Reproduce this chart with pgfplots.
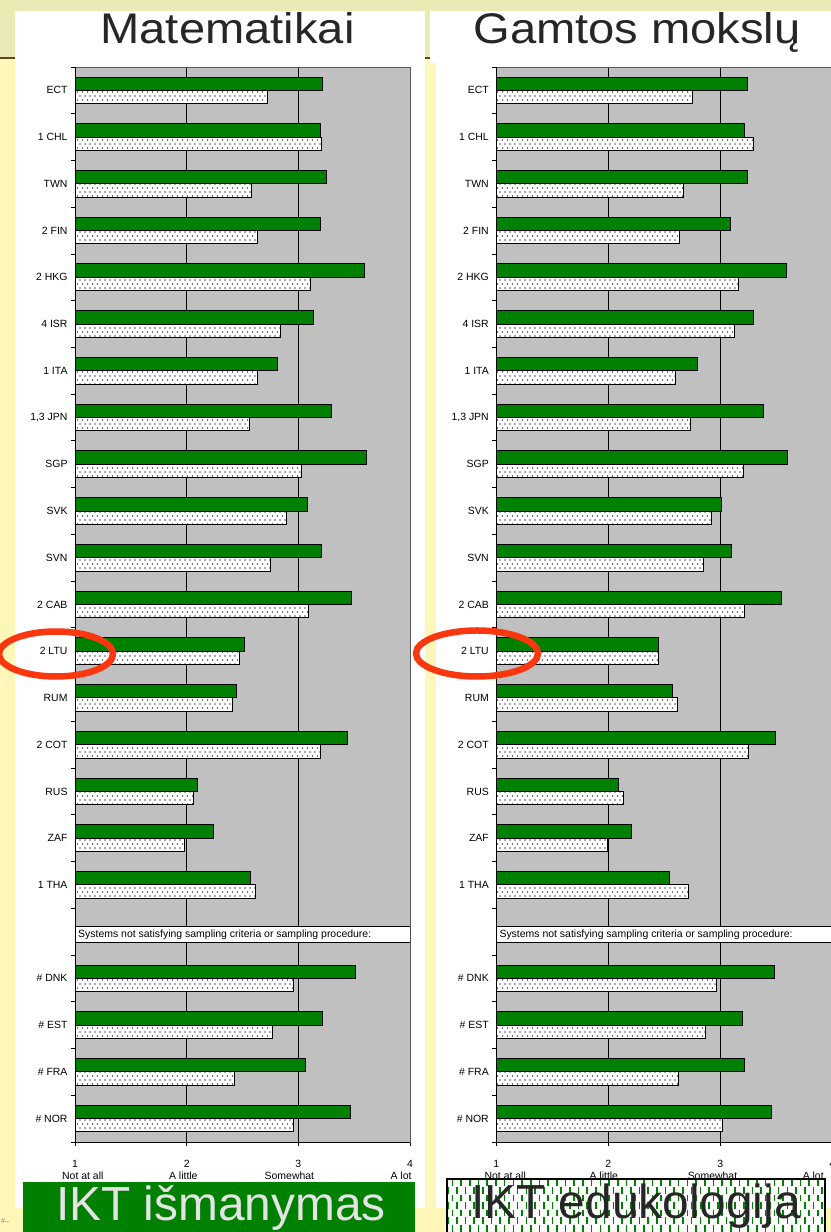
\documentclass[border=0pt]{standalone}
\usepackage{pgfplots}
\pgfplotsset{compat=1.18}
\usepackage{pgfplotstable}
\usepackage{fontspec}
\setmainfont{Liberation Sans}
\usepackage{graphicx}
\usetikzlibrary{patterns}
\definecolor{barg}{RGB}{0,128,0}
\definecolor{plotbg}{RGB}{192,192,192}
\definecolor{yel}{RGB}{255,247,185}
\definecolor{oliveband}{RGB}{234,234,180}
\definecolor{brownl}{RGB}{95,65,35}
\definecolor{redov}{RGB}{250,55,15}
\definecolor{dotc}{RGB}{85,85,85}
\definecolor{txtg}{RGB}{228,228,228}

\pgfdeclarepatternformonly{bardots}{\pgfqpoint{-1bp}{-1bp}}{\pgfqpoint{6bp}{9bp}}{\pgfqpoint{5bp}{8bp}}{%
  \pgfpathcircle{\pgfqpoint{0bp}{0bp}}{0.8bp}%
  \pgfpathcircle{\pgfqpoint{2.5bp}{4bp}}{0.8bp}%
  \pgfusepath{fill}%
}
\pgfdeclarepatternformonly{vdash}{\pgfqpoint{-1bp}{-1bp}}{\pgfqpoint{10bp}{16bp}}{\pgfqpoint{8.7bp}{15bp}}{%
  \pgfsetlinewidth{1.6bp}%
  \pgfpathmoveto{\pgfqpoint{0bp}{0.5bp}}\pgfpathlineto{\pgfqpoint{0bp}{7bp}}%
  \pgfpathmoveto{\pgfqpoint{4.35bp}{8bp}}\pgfpathlineto{\pgfqpoint{4.35bp}{14.5bp}}%
  \pgfusepath{stroke}%
}

% idx: row position from bottom (4 = header row "Systems not satisfying ...")
\pgfplotstableread{
idx icts edu
22 3.22 2.72
21 3.20 3.21
20 3.25 2.58
19 3.20 2.63
18 3.59 3.11
17 3.14 2.84
16 2.81 2.63
15 3.30 2.56
14 3.61 3.03
13 3.08 2.89
12 3.21 2.75
11 3.48 3.09
10 2.52 2.47
9 2.45 2.41
8 3.44 3.20
7 2.10 2.06
6 2.24 1.98
5 2.57 2.62
3 3.51 2.96
2 3.22 2.77
1 3.06 2.43
0 3.47 2.96
}\mathdata

\pgfplotstableread{
idx icts edu
22 3.24 2.75
21 3.22 3.30
20 3.24 2.67
19 3.09 2.64
18 3.59 3.16
17 3.30 3.13
16 2.80 2.60
15 3.39 2.73
14 3.60 3.21
13 3.01 2.92
12 3.10 2.85
11 3.55 3.22
10 2.45 2.45
9 2.57 2.62
8 3.49 3.25
7 2.09 2.14
6 2.21 1.99
5 2.55 2.72
3 3.48 2.97
2 3.20 2.87
1 3.22 2.63
0 3.46 3.02
}\scidata

\pgfplotsset{
 panel/.style={
  scale only axis, height=1075bp, anchor=north west,
  xmin=1, xmax=4, ymin=-0.5, ymax=22.5,
  axis background/.style={fill=plotbg},
  axis line style={draw=gray!70!black, line width=0.8bp},
  xtick={1,2,3,4},
  xmajorgrids, major grid style={black, line width=0.6bp},
  major tick length=4.5bp,
  tick align=outside, tick style={black, line width=0.8bp},
  xtick pos=bottom, ytick pos=left,
  ytick={-0.5,0.5,...,22.5}, yticklabels={},
  extra y ticks={0,1,2,3,5,6,...,22},
  extra y tick labels={\# NOR,\# FRA,\# EST,\# DNK,1 THA,ZAF,RUS,2 COT,RUM,2 LTU,2 CAB,SVN,SVK,SGP,{1,3 JPN},1 ITA,4 ISR,2 HKG,2 FIN,TWN,1 CHL,ECT},
  extra y tick style={major tick length=0pt},
  tick label style={font=\fontsize{10.5}{12}\selectfont},
  yticklabel style={xshift=-4bp},
  xticklabel style={anchor=base, yshift=-21bp},
  /pgf/number format/assume math mode=true,
  after end axis/.append code={
    \draw[black, line width=0.8bp] (rel axis cs:0,1) -- (rel axis cs:0,0) -- (rel axis cs:1,0);
  },
 },
 icts/.style={xbar, bar width=0.285, bar shift=0.1425, fill=barg, draw=black, line width=1bp},
 edu/.style={xbar, bar width=0.285, bar shift=-0.1425, fill=white, draw=black, line width=1bp,
   postaction={pattern=bardots, pattern color=dotc}},
}

\begin{document}
\begin{tikzpicture}
\useasboundingbox (0,0) rectangle (831bp,1232bp);
\clip (0,0) rectangle (831bp,1232bp);
% slide background
\fill[yel] (0,0) rectangle (831bp,1232bp);
\fill[oliveband] (0,1174bp) rectangle (831bp,1232bp);
\draw[brownl, line width=2bp] (0,1173.5bp) -- (831bp,1173.5bp);
\fill[white] (15bp,24bp) rectangle (425bp,1221bp);
\fill[white] (430bp,1169bp) rectangle (831bp,1221bp);
\fill[white] (436bp,24bp) rectangle (831bp,1169bp);

% titles
\node[anchor=base, inner sep=0, text=black!85] at (227.5bp,1188bp)
  {\scalebox{1.1}[1]{\fontsize{43}{43}\selectfont Matematikai}};
\node[anchor=base, inner sep=0, text=black!85] at (637bp,1188bp)
  {\scalebox{1.1}[1]{\fontsize{43}{43}\selectfont Gamtos mokslų}};

% left panel
\begin{axis}[panel, at={(75bp,1165bp)}, width=335bp,
  after end axis/.append code={
    \foreach \xx/\tt in {1.07/Not at all,1.97/A little,2.92/Somewhat,3.92/A lot}{
      \node[anchor=base, inner sep=0, font=\fontsize{10.5}{12}\selectfont]
        at ([yshift=-38bp]axis cs:\xx,-0.5) {\tt};
    }
  }]
\addplot[icts] table[x=icts, y=idx] {\mathdata};
\addplot[edu] table[x=edu, y=idx] {\mathdata};
\draw[fill=white, draw=black, line width=0.8bp] (axis cs:1,3.764) rectangle (axis cs:4,4.107);
\node[anchor=west, inner sep=0, font=\fontsize{10.5}{12}\selectfont] at (axis cs:1.027,3.935)
  {Systems not satisfying sampling criteria or sampling procedure:};
\end{axis}

% right panel
\begin{axis}[panel, at={(496.3bp,1165bp)}, width=336bp,
  after end axis/.append code={
    \foreach \xx/\tt in {1.08/Not at all,1.96/A little,2.93/Somewhat,3.83/A lot}{
      \node[anchor=base, inner sep=0, font=\fontsize{10.5}{12}\selectfont]
        at ([yshift=-38bp]axis cs:\xx,-0.5) {\tt};
    }
  }]
\addplot[icts] table[x=icts, y=idx] {\scidata};
\addplot[edu] table[x=edu, y=idx] {\scidata};
\draw[fill=white, draw=black, line width=0.8bp] (axis cs:1,3.764) rectangle (axis cs:4,4.107);
\node[anchor=west, inner sep=0, font=\fontsize{10.5}{12}\selectfont] at (axis cs:1.027,3.935)
  {Systems not satisfying sampling criteria or sampling procedure:};
\end{axis}

% highlight ellipses
\draw[redov, line width=6.5bp] (56bp,578bp) ellipse [x radius=57bp, y radius=22.5bp];
\draw[redov, line width=6.5bp] (477bp,578.5bp) ellipse [x radius=61bp, y radius=23bp];

% bottom labels
\fill[barg] (23bp,-8bp) rectangle (415bp,50bp);
\node[anchor=base, inner sep=0, text=txtg] at (221bp,12bp)
  {\fontsize{48}{48}\selectfont IKT išmanymas};
\path[fill=white] (447bp,-8bp) rectangle (825bp,53bp);
\path[pattern=vdash, pattern color=barg] (447bp,-8bp) rectangle (825bp,53bp);
\draw[black, line width=2bp] (447bp,-8bp) rectangle (825bp,53bp);
\node[anchor=base, inner sep=0, text=black!85] at (636bp,14bp)
  {\fontsize{48}{48}\selectfont IKT edukologija};
\node[anchor=base west, inner sep=0, text=gray, font=\fontsize{7}{7}\selectfont] at (1bp,9bp) {\#--};
\end{tikzpicture}
\end{document}
